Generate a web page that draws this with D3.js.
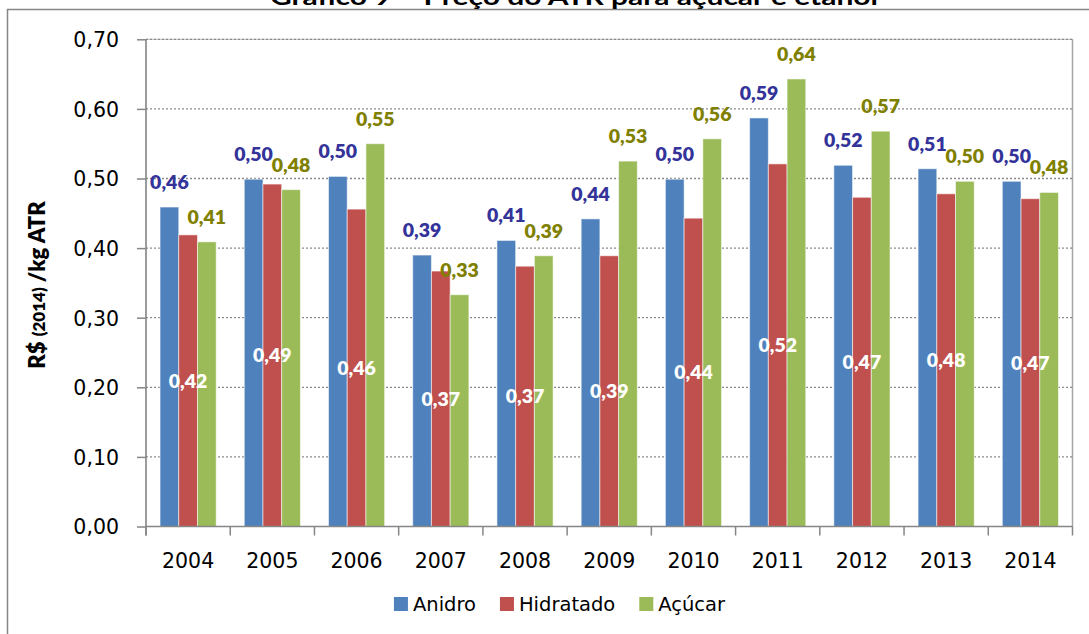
<!DOCTYPE html>
<html>
<head>
<meta charset="utf-8">
<script src="https://cdn.jsdelivr.net/npm/d3@7"></script>
<style>
  html, body { margin: 0; padding: 0; background: #fff; }
  svg { display: block; }
</style>
</head>
<body>
<svg id="chart" width="1089" height="634"></svg>
<script>
// ATR price (R$ of 2014 per kg ATR) by product, 2004–2014
const years = ["2004","2005","2006","2007","2008","2009","2010","2011","2012","2013","2014"];
const anidro    = [0.459, 0.499, 0.503, 0.390, 0.411, 0.442, 0.499, 0.587, 0.519, 0.514, 0.496];
const hidratado = [0.419, 0.492, 0.456, 0.367, 0.374, 0.389, 0.443, 0.521, 0.473, 0.478, 0.471];
const acucar    = [0.409, 0.484, 0.550, 0.333, 0.389, 0.525, 0.557, 0.643, 0.568, 0.496, 0.480];
const seriesNames = ["Anidro", "Hidratado", "Açúcar"];
const yTicks = [0, 0.1, 0.2, 0.3, 0.4, 0.5, 0.6, 0.7];
const titleText = "Gráfico 9 – Preço do ATR para açúcar e etanol";

const colors = ["#4F81BD", "#C0504D", "#9BBB59"];
const labelColors = ["#333399", "#FFFFFF", "#808000"];
const series = [anidro, hidratado, acucar];

const svg = d3.select("#chart");
const plot = { left: 146, right: 1072.5, top: 39.3, bottom: 526.5 };

const fmt = v => d3.format(".2f")(v).replace(".", ",");

const x = d3.scaleBand().domain(years).range([plot.left, plot.right]).padding(0);
const xs = d3.scaleBand().domain(d3.range(3)).range([0, x.bandwidth()])
  .paddingInner(0).paddingOuter(0.75);
const y = d3.scaleLinear().domain([0, 0.7]).range([plot.bottom, plot.top]);

// outer chart frame
svg.append("rect")
  .attr("x", 7.5).attr("y", 9.5).attr("width", 1200).attr("height", 800)
  .attr("fill", "none").attr("stroke", "#868686").attr("stroke-width", 1.5);

// title
svg.append("text")
  .attr("x", 270).attr("y", 5)
  .attr("font-family", "Lato, 'Open Sans', sans-serif")
  .attr("font-weight", 700).attr("font-size", 23)
  .attr("textLength", 608).attr("lengthAdjust", "spacingAndGlyphs")
  .attr("fill", "#000").text(titleText);

// plot area border
svg.append("rect")
  .attr("x", plot.left).attr("y", plot.top)
  .attr("width", plot.right - plot.left).attr("height", plot.bottom - plot.top)
  .attr("fill", "none").attr("stroke", "#bdbdbd").attr("stroke-width", 1);
svg.append("line")
  .attr("x1", plot.right).attr("x2", plot.right)
  .attr("y1", plot.top).attr("y2", plot.bottom)
  .attr("stroke", "#a6a6a6").attr("stroke-width", 1.5);

// gridlines
svg.append("g").selectAll("line").data(yTicks.filter(d => d > 0)).join("line")
  .attr("x1", plot.left).attr("x2", plot.right)
  .attr("y1", d => y(d)).attr("y2", d => y(d))
  .attr("stroke", "#8a8a8a").attr("stroke-width", 1.3)
  .attr("stroke-dasharray", "2,2");

// y axis
const yAxis = svg.append("g").attr("transform", `translate(${plot.left},0)`)
  .call(d3.axisLeft(y).tickValues(yTicks).tickFormat(fmt).tickSize(9).tickPadding(18));
yAxis.select(".domain").attr("stroke", "#868686").attr("stroke-width", 1.5)
  .attr("d", `M0,${plot.top}V${plot.bottom + 9}`);
yAxis.selectAll(".tick line").attr("stroke", "#868686").attr("stroke-width", 1.5);
yAxis.selectAll(".tick text")
  .attr("font-family", "'DejaVu Sans', sans-serif").attr("font-size", 20.5)
  .attr("fill", "#000").attr("dy", "0.36em");

// y axis title
const yTitle = svg.append("text")
  .attr("transform", "translate(45,285) rotate(-90)")
  .attr("text-anchor", "middle")
  .attr("font-family", "Lato, sans-serif").attr("font-weight", 800)
  .attr("font-size", 22).attr("fill", "#000");
yTitle.append("tspan").text("R$ ");
yTitle.append("tspan").attr("font-size", 17).text("(2014)");
yTitle.append("tspan").text(" /kg ATR");

// bars
const groups = svg.append("g").selectAll("g").data(years).join("g")
  .attr("transform", d => `translate(${x(d)},0)`);
groups.selectAll("rect")
  .data((d, i) => series.map((s, k) => ({ k, v: s[i] })))
  .join("rect")
  .attr("x", d => xs(d.k))
  .attr("width", xs.bandwidth())
  .attr("y", d => y(d.v))
  .attr("height", d => y(0) - y(d.v))
  .attr("fill", d => colors[d.k])
  .attr("stroke", "rgba(255,255,255,0.55)").attr("stroke-width", 1);

// x axis
svg.append("line")
  .attr("x1", plot.left).attr("x2", plot.right)
  .attr("y1", plot.bottom).attr("y2", plot.bottom)
  .attr("stroke", "#868686").attr("stroke-width", 1.5);
const bounds = years.map(d => x(d)).concat([plot.right]);
svg.append("g").selectAll("line").data(bounds).join("line")
  .attr("x1", d => d).attr("x2", d => d)
  .attr("y1", plot.bottom).attr("y2", plot.bottom + 9)
  .attr("stroke", "#868686").attr("stroke-width", 1.5);
const xAxis = svg.append("g").attr("transform", `translate(0,${plot.bottom})`)
  .call(d3.axisBottom(x).tickSize(0).tickPadding(27));
xAxis.select(".domain").remove();
xAxis.selectAll(".tick text")
  .attr("font-family", "'DejaVu Sans', sans-serif").attr("font-size", 20.5)
  .attr("fill", "#000");

// value labels
groups.selectAll("text.val")
  .data((d, i) => series.map((s, k) => ({ k, v: s[i] })))
  .join("text").attr("class", "val")
  .attr("x", d => xs(d.k) + xs.bandwidth() / 2)
  .attr("y", d => d.k === 1 ? (y(d.v) + y(0)) / 2 : y(d.v) - 18)
  .attr("dy", d => d.k === 1 ? "0.36em" : 0)
  .attr("text-anchor", "middle")
  .attr("font-family", "Lato, sans-serif").attr("font-weight", 800)
  .attr("font-size", 19.5)
  .attr("fill", d => labelColors[d.k])
  .text(d => fmt(d.v));

// legend
const legend = svg.append("g");
let lx = 0;
seriesNames.forEach((name, k) => {
  const g = legend.append("g").attr("transform", `translate(${lx},0)`);
  g.append("rect").attr("x", 0).attr("y", 597).attr("width", 14).attr("height", 14)
    .attr("fill", colors[k]);
  const t = g.append("text").attr("x", 19).attr("y", 610.5)
    .attr("font-family", "'DejaVu Sans', sans-serif").attr("font-size", 19.5)
    .attr("fill", "#000").text(name);
  lx += 19 + t.node().getComputedTextLength() + 24;
});
const legendWidth = lx - 24;
legend.attr("transform", `translate(${559.5 - legendWidth / 2},0)`);
</script>
</body>
</html>
